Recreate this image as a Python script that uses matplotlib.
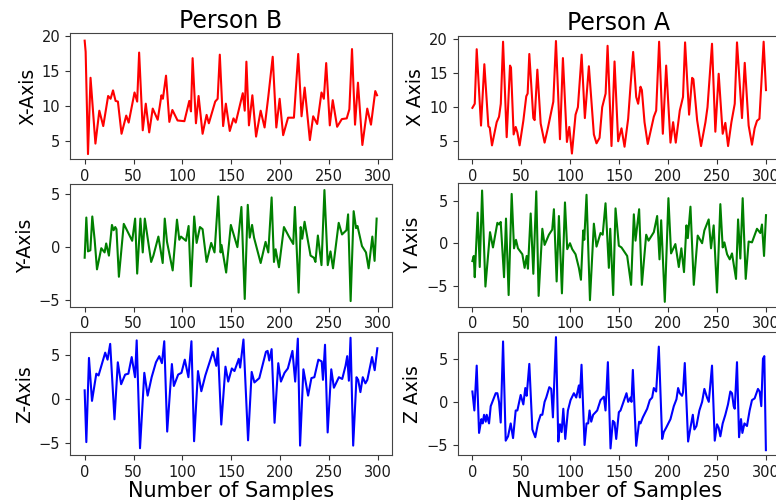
import matplotlib
matplotlib.use("Agg")
import matplotlib.pyplot as plt

# ---------------- data ----------------
titles = ["Person B", "Person A"]
ylabels_b = ["X-Axis", "Y-Axis", "Z-Axis"]
ylabels_a = ["X Axis", "Y Axis", "Z Axis"]
xlabel = "Number of Samples"
xticks = [0, 50, 100, 150, 200, 250, 300]

bx_idx = [0, 1, 3.4, 6, 11, 15, 19, 24, 26.5, 29, 31.6, 34, 37.7, 42.5, 45, 51, 53.7, 55.7, 59.4, 62.5,
          66, 69.6, 74.7, 78.5, 80, 83.2, 86.6, 89.7, 95, 102, 107, 108.7, 110.4, 113.8, 116.5, 120.6, 124.7,
          127, 133.5, 136, 138.2, 141.6, 144.4, 148.4, 152.2, 154.5, 161.7, 163.7, 165.4, 168, 171.5, 175.3,
          180, 184, 187.8, 192.3, 196, 199.4, 203, 208, 214, 218.4, 221.8, 225, 230.3, 233.7, 237.8, 242.2,
          244.6, 247, 250.7, 253.7, 258.2, 263, 268, 270.7, 273.4, 276.5, 279.5, 284, 289, 292.8, 297.2, 299]
bx_val = [19.3, 17.7, 3.1, 14.0, 4.6, 9.3, 7.1, 11.4, 11.0, 12.2, 10.7, 10.6, 6.0, 8.6, 7.6, 11.9, 10.6, 17.6,
          6.5, 10.3, 6.2, 9.6, 8.0, 11.5, 11.0, 14.3, 7.7, 9.4, 7.9, 7.8, 10.7, 9.2, 16.8, 7.5, 11.4, 6.0, 8.7,
          7.5, 10.6, 11.0, 17.3, 7.1, 10.3, 6.4, 8.2, 7.6, 11.8, 9.3, 16.3, 7.2, 11.5, 5.6, 9.3, 6.9, 11.3,
          17.0, 6.9, 11.0, 5.8, 8.3, 8.3, 17.4, 8.5, 12.6, 5.1, 8.5, 7.4, 11.9, 11.0, 16.1, 7.2, 10.8, 7.0,
          8.1, 8.2, 9.5, 18.1, 7.3, 13.3, 4.4, 9.6, 7.3, 12.1, 11.5]

ax_idx = [0, 2.4, 4.4, 8.8, 12.2, 16.3, 17.7, 20, 24.8, 27.2, 29, 31.3, 35, 38.4, 39.4, 42.1, 44.2, 45.9,
          48.2, 52, 55, 56.4, 58.1, 62.2, 63.5, 66.3, 69.7, 73.7, 77, 82.6, 85.3, 89.4, 92.4, 96.5, 98.9,
          101.6, 105.3, 107.7, 111.5, 114.8, 118.9, 124, 126.7, 129.8, 132.5, 136, 138, 142, 145.1, 148.8,
          152.2, 155.3, 159, 161.4, 164.1, 167.2, 169.2, 171.6, 173, 175.7, 179, 185.2, 187.6, 190.6, 194.4,
          197.8, 202.2, 204.9, 207.6, 211.7, 215, 217.1, 221.2, 224.3, 225.6, 229.4, 233.4, 237.9, 240,
          244.6, 248, 251.4, 255.5, 258.2, 261, 264.4, 267.8, 270.1, 275.2, 278, 282, 285.4, 288.1, 290.5,
          293, 297.3, 299.7]
ax_val = [9.9, 10.5, 18.5, 7.3, 16.3, 7.2, 7.0, 4.4, 7.8, 8.6, 10.5, 19.6, 5.6, 16.1, 15.8, 6.0, 7.1, 6.3,
          4.4, 8.0, 11.6, 12.0, 17.8, 8.4, 8.1, 15.5, 7.6, 4.8, 6.9, 10.8, 19.7, 5.3, 17.2, 4.9, 7.1, 3.2,
          8.9, 10.0, 17.7, 8.4, 16.0, 6.0, 4.7, 5.5, 10.0, 12.0, 19.0, 4.3, 16.7, 5.0, 6.9, 4.2, 8.3, 13.1,
          18.1, 11.5, 10.5, 13.0, 12.5, 7.8, 4.6, 8.6, 9.5, 19.6, 6.1, 16.1, 4.8, 7.8, 4.8, 9.5, 11.5, 19.5,
          8.9, 14.3, 14.1, 8.1, 4.3, 7.8, 10.0, 19.3, 6.4, 14.9, 6.1, 7.7, 4.3, 7.8, 10.5, 19.5, 8.4, 16.5,
          7.3, 4.5, 6.9, 8.0, 8.3, 19.6, 12.5]

by_idx = [0, 1.7, 3.4, 5.8, 7.8, 10.2, 12.6, 17, 20.4, 22, 24.8, 27.9, 29.6, 31.3, 32.5, 35, 40, 48.6,
          51.6, 53.7, 57, 59.4, 61.5, 68, 70.3, 75.4, 79.8, 81.9, 84.2, 90, 94.4, 96.8, 98.5, 103.6, 106.3,
          108.7, 112, 114.5, 117.9, 120.6, 124.7, 129.4, 132.8, 136.6, 139, 140, 144.7, 149.5, 156.2, 160.3,
          163.7, 166.8, 168.8, 171.2, 173.2, 180, 185, 187.8, 191.2, 193.6, 195.3, 198.7, 203.8, 208.9,
          213.3, 215, 218.8, 220.9, 222.5, 224.9, 231, 234.4, 236, 238.5, 242.2, 245.2, 248.6, 251.4, 254,
          259.8, 263.2, 267.7, 269.4, 272, 275.1, 277.5, 279, 283.6, 287.7, 290.4, 294.2, 296.5, 298.6]
by_val = [-1.0, 2.8, -0.4, -0.3, 2.9, 0.7, -2.1, -0.1, -0.5, 0.35, -0.8, 2.1, 1.6, 1.9, 1.7, -2.8, 2.2,
          0.6, 2.7, -2.5, 2.7, -0.5, 2.7, -1.4, -0.8, 1.0, -1.5, 2.7, 0.5, -2.2, 2.6, 0.7, 1.0, 0.6, 2.0,
          -3.7, 2.9, 0.4, 1.9, 1.7, -1.4, 0.4, -0.5, 4.8, -0.5, 0.2, -2.4, 2.1, 0.0, 3.8, -4.9, 4.0, 0.9,
          2.1, 0.9, -1.5, 0.5, -0.5, 4.7, -1.4, -0.2, -1.9, 1.9, 1.0, 0.3, 3.8, -4.3, 1.9, 0.8, 2.4, -0.8,
          -1.0, -1.4, 1.1, -1.7, 5.4, -1.7, -0.4, -2.0, 2.3, 1.2, 1.6, 3.1, -5.1, 3.4, 1.8, 2.0, 0.1, -0.5,
          -2.0, 1.0, -1.3, 2.7]

ay_idx = [0, 1.4, 2.4, 5.4, 7.5, 9.9, 13.3, 18, 21, 25.5, 27.2, 28.9, 32.3, 34.3, 37, 40.1, 42.5, 44.5,
          46.5, 51, 53.3, 55.4, 56.7, 59.5, 62.2, 65.2, 67.6, 71.4, 73.7, 78.1, 81.5, 83.2, 86, 88.3, 91.4,
          94.5, 96.8, 99.6, 101.9, 105.3, 108.7, 110.8, 113.1, 114.2, 116.5, 120, 124, 126.7, 130.8, 133,
          135.9, 139.3, 140.7, 143.7, 146.1, 149.5, 152.2, 158, 162, 164.8, 166.5, 170.2, 173, 177.4, 179.8,
          185.2, 188.6, 191, 192.7, 196.4, 200.1, 202.8, 207.2, 210.7, 213.3, 216, 218.5, 219.9, 222.6, 226,
          230, 234.5, 236.8, 241.2, 243.6, 246.3, 249.7, 253.1, 255.5, 257.2, 260, 262.7, 265, 269.1, 271.2,
          273.5, 275.9, 279, 282, 285.4, 290.5, 293.9, 295.6, 297.7, 299.7]
ay_val = [-2.1, -1.5, -4.0, 3.6, -2.8, 6.2, -5.1, 1.3, -0.5, 2.4, 2.2, 2.5, -4.0, 2.9, -6.1, 5.8, -0.6,
          0.4, -0.6, -1.3, -2.9, -1.5, -3.0, 3.5, -3.6, 6.1, -6.2, 1.7, -0.2, 1.0, 1.6, 4.0, -4.5, 3.2, -5.9,
          4.8, -0.7, 0.0, -0.7, -1.3, -2.9, -4.3, 1.5, 0.4, 5.7, -6.7, 2.3, -0.4, 1.2, 1.0, 4.7, -2.9, 1.7,
          -6.1, 4.1, -0.3, -0.5, -1.5, -4.9, 3.4, 0.3, 4.0, -4.9, 1.0, 0.3, 1.3, 3.2, -1.9, 2.7, -6.9, 5.3,
          -1.2, -0.1, -2.8, -0.6, -3.4, 2.1, 0.6, 4.3, -4.9, 0.9, 0.0, 1.5, 2.8, -0.6, 2.1, -5.8, 4.6, -0.5,
          0.1, -1.3, -1.9, -1.2, -4.2, 2.8, -1.8, 5.3, -4.2, 0.2, 0.1, 1.7, 1.2, 2.2, -1.5, 3.3]

bz_idx = [0, 1.7, 4.4, 7.5, 11.9, 14.2, 21, 23.4, 26.1, 30.5, 33.9, 37.3, 41.4, 44.7, 48.1, 51.5, 53.2,
          56.6, 61, 64.4, 68.5, 72.9, 76.3, 79, 81.4, 84.4, 89.2, 91.2, 95.6, 99, 102.4, 106.1, 109.2, 111.9,
          115.9, 119.3, 123.4, 131.2, 134.6, 136.3, 139.7, 144, 146.8, 150.5, 153.2, 157.6, 159, 162.4, 167.1,
          170.8, 173.6, 178.6, 185.4, 187.1, 188.8, 191.2, 194.2, 198, 200.7, 204.4, 207.8, 212.5, 215.3,
          218, 220.3, 223.7, 228.5, 231.9, 234.9, 239, 242.4, 243.7, 245.8, 248.5, 252.2, 254.9, 260, 263.4,
          266.8, 268.5, 270.2, 271.9, 274.6, 278, 279.7, 282, 284.4, 287.1, 289.1, 293.9, 296.6, 299.3]
bz_val = [1.0, -4.9, 4.7, -0.2, 2.9, 2.7, 5.3, 4.5, 6.3, -2.3, 4.2, 1.7, 2.8, 2.9, 4.8, 2.5, 6.7, -5.6,
          3.0, 0.4, 2.5, 4.2, 4.9, 4.1, 6.6, -3.7, 4.0, 1.5, 2.8, 3.0, 4.5, 2.5, 6.6, -4.8, 3.2, 0.9, 2.7,
          5.4, 3.8, 5.8, -2.9, 3.7, 2.0, 3.5, 3.2, 4.6, 3.6, 6.8, -4.7, 3.1, 1.9, 2.4, 5.4, 5.5, 4.4, 5.7,
          -2.7, 4.1, 2.0, 3.0, 3.5, 5.5, 2.0, 6.9, -5.3, 3.4, 0.4, 2.4, 2.5, 4.5, 4.3, 2.2, 6.2, -3.8, 3.4,
          1.3, 2.5, 2.3, 3.8, 4.9, 2.1, 7.0, -5.3, 2.5, 2.2, 0.8, 2.5, 1.8, 2.2, 4.8, 3.3, 5.8]

az_idx = [0, 2, 4.4, 6.8, 9.2, 10.5, 11.9, 13.6, 14.6, 17, 18.7, 20.4, 23.8, 25.5, 27.2, 28.9, 31.3, 34,
          36.4, 39.1, 41.5, 44.2, 45.9, 49.3, 52, 54, 55.4, 58.1, 61.2, 64.2, 66.9, 69.7, 71.4, 73.7, 75.4,
          78.5, 80.5, 82.2, 85.3, 87.7, 89.4, 91.1, 92.8, 94.8, 97.5, 100.2, 103.6, 106, 108.7, 109.7, 111.4,
          114.5, 116.5, 118.2, 119.6, 121.3, 123.3, 127.4, 130.8, 134.2, 135.9, 138.3, 141, 143.4, 145.1,
          146.8, 149.5, 151.2, 154.6, 157.3, 159, 161.4, 162.4, 163.8, 167.2, 170.2, 171.6, 174, 178.4,
          181.1, 183.5, 185.2, 187.6, 190.3, 193.7, 195.4, 197.8, 202.2, 205.6, 208.3, 210, 211.7, 214, 215,
          216.8, 220.2, 222.6, 225, 226.6, 228.7, 231.7, 234.5, 236.8, 239.5, 241.3, 244.6, 247.4, 249.7,
          251.4, 253.1, 255.5, 258.2, 260.9, 263.3, 265, 266.7, 267.8, 270.1, 272.2, 274.2, 275.6, 277.7,
          280.3, 283, 285.4, 288.1, 291.5, 293.2, 294.9, 296.6, 298, 299.6]
az_val = [1.2, -1.0, 4.2, -3.6, -2.0, -2.5, -1.5, -2.3, -1.5, -2.5, -0.5, 0.0, 1.0, 1.0, 0.0, -2.4, 7.0,
          -4.5, -4.0, -2.5, -4.2, -1.0, -1.0, 0.8, -0.3, 1.6, 0.7, 4.4, -3.2, -4.1, -2.5, -1.5, -1.5, 0.0,
          0.5, 1.7, 1.5, -1.8, 7.5, -4.6, -2.6, -3.5, -0.8, -4.3, -1.0, 0.2, 1.0, 0.5, 1.9, 0.5, 4.3, -5.0,
          -2.5, -2.5, -1.0, -2.3, -1.5, -1.0, 0.2, 0.6, -1.0, 4.6, -5.4, -2.2, -2.4, -4.3, -1.2, -1.0, 0.1,
          1.0, 0.0, 0.5, 0.0, 3.7, -5.1, -2.3, -2.5, -1.8, -0.8, 0.2, 0.5, 1.6, 1.2, 6.4, -4.3, -3.5, -3.0,
          -2.0, -0.5, 0.3, 1.6, 1.0, 0.7, 1.1, 4.5, -4.6, -3.0, -1.5, -3.2, -2.8, -1.0, 0.0, 1.5, 0.5, 0.0,
          4.2, -4.5, -2.6, -3.0, -4.0, -2.5, -1.5, -0.3, 1.2, 1.0, -0.5, -0.8, 4.6, -4.1, -2.0, -3.6, -2.5,
          -2.8, -1.0, 0.2, 0.4, 1.5, 1.2, -0.5, 5.0, 5.3, -5.6]

# ---------------- layout / style ----------------
W, H = 776, 500
fig = plt.figure(figsize=(W / 100, H / 100), dpi=100)

def rect(l, t, r, b):
    return [l / W, 1 - b / H, (r - l) / W, (b - t) / H]

left_rects = [rect(70, 33.3, 391.7, 159), rect(70, 184, 391.7, 306.7), rect(70, 332.3, 391.7, 455)]
right_rects = [rect(457.7, 35.7, 780, 159), rect(457.7, 183.3, 780, 306.7), rect(457.7, 332.3, 780, 455)]

left_series = [(bx_idx, bx_val), (by_idx, by_val), (bz_idx, bz_val)]
right_series = [(ax_idx, ax_val), (ay_idx, ay_val), (az_idx, az_val)]
colors = ["#ff0000", "#008000", "#0000ff"]
left_ylim = [(2.4, 20.35), (-5.63, 5.97), (-6.37, 7.62)]
right_ylim = [(2.4, 20.48), (-7.47, 7.05), (-6.16, 8.06)]
yticks = [[5, 10, 15, 20], [-5, 0, 5], [-5, 0, 5]]

for col, (rects, series, ylabs, ylims, title) in enumerate([
        (left_rects, left_series, ylabels_b, left_ylim, titles[0]),
        (right_rects, right_series, ylabels_a, right_ylim, titles[1])]):
    for row in range(3):
        a = fig.add_axes(rects[row])
        xs, ys = series[row]
        a.plot(xs, ys, color=colors[row], lw=1.5, solid_joinstyle="round")
        a.set_xlim(-15, 314)
        a.set_ylim(*ylims[row])
        a.set_xticks(xticks)
        a.set_yticks(yticks[row])
        a.tick_params(labelsize=10.5, length=3.5, color="#333333", labelcolor="#1a1a1a")
        for s in a.spines.values():
            s.set_color("#444444")
        a.set_ylabel(ylabs[row], fontsize=13.5, labelpad=3)
        if row == 0:
            a.set_title(title, fontsize=17, pad=4)
        if row == 2:
            a.set_xlabel(xlabel, fontsize=15, labelpad=1)

fig.savefig("out.png", dpi=100)
